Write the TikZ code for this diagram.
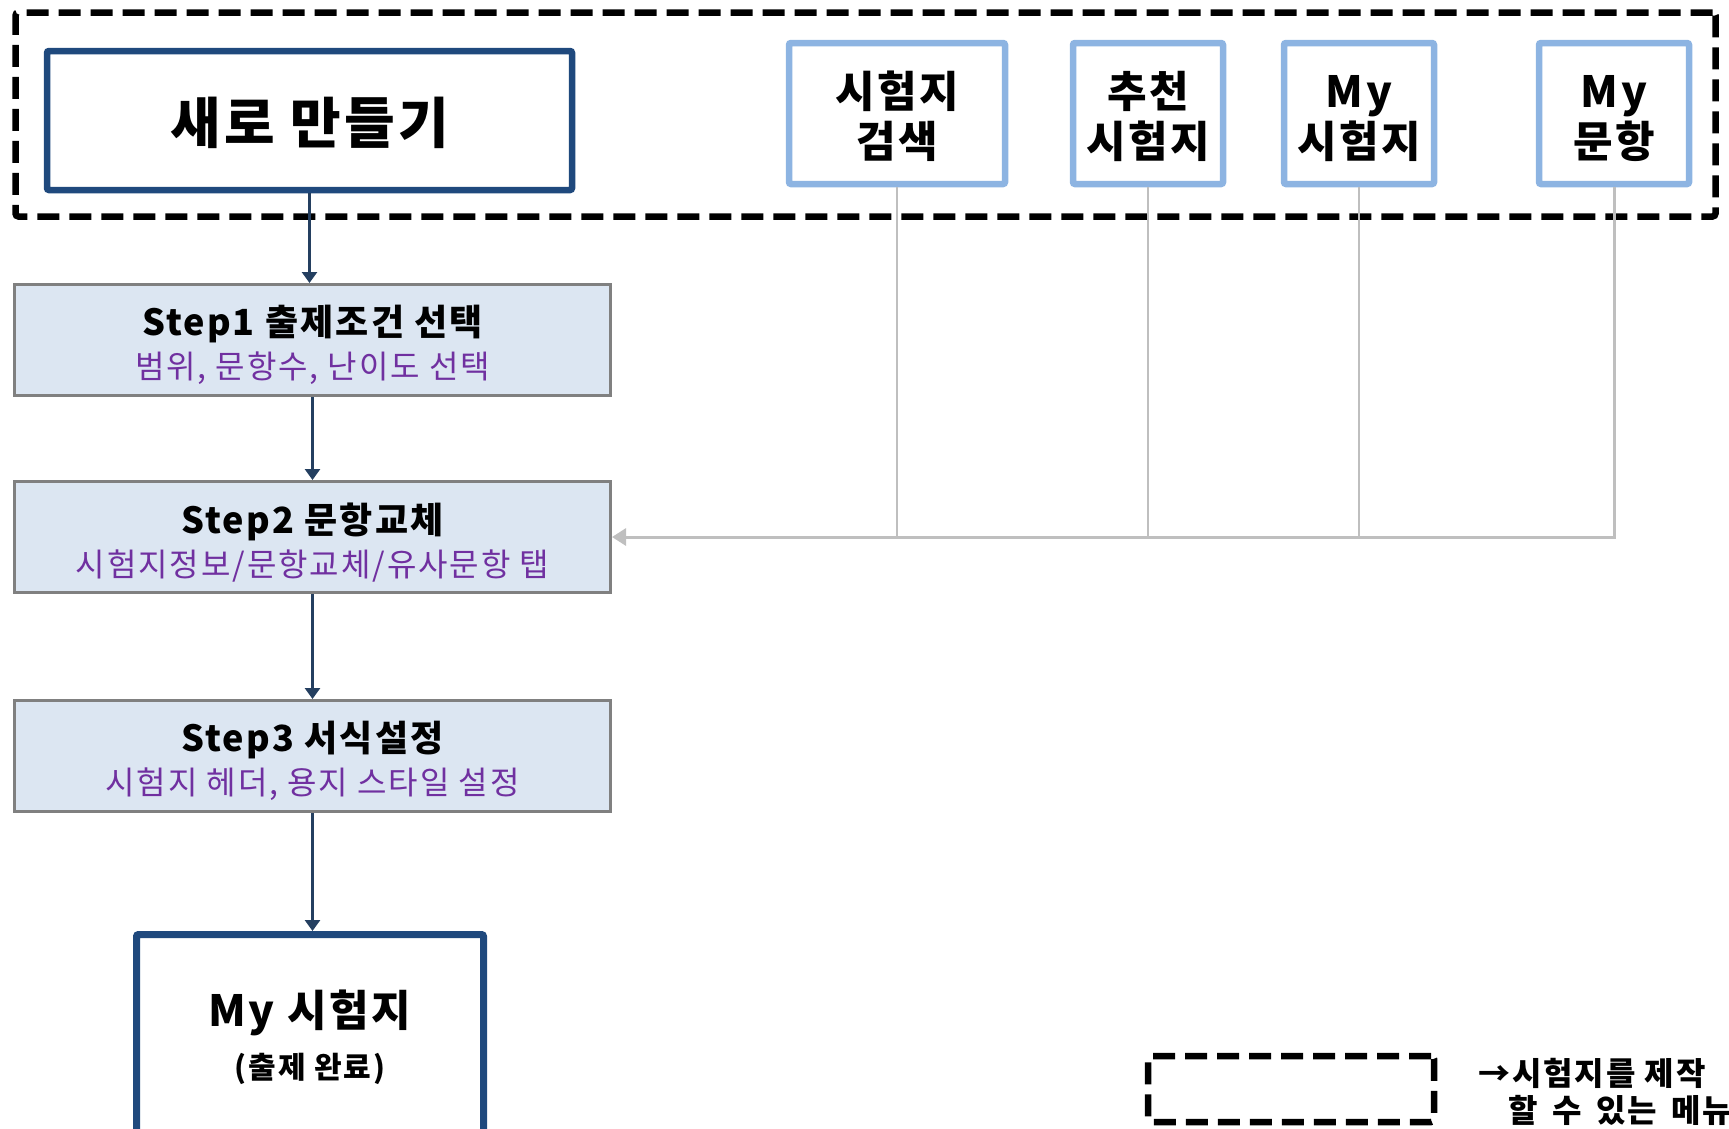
\documentclass[tikz,border=0pt]{standalone}
\usepackage{fontspec}
\setmainfont{Noto Sans CJK KR}[LetterSpace=6]
\usetikzlibrary{arrows.meta}
\definecolor{navy}{HTML}{1F497D}
\definecolor{navyarrow}{HTML}{243F60}
\definecolor{lightblue}{HTML}{8DB4E2}
\definecolor{stepfill}{HTML}{DCE6F2}
\definecolor{stepgray}{HTML}{808080}
\definecolor{subpurple}{HTML}{7030A0}
\definecolor{linkgray}{HTML}{BFBFBF}
\begin{document}
\begin{tikzpicture}[x=1pt,y=-1pt,
  newbox/.style={draw=navy, line width=6.5pt, rounded corners=2pt, fill=white, inner sep=0pt, align=center},
  menubox/.style={draw=lightblue, line width=6.5pt, rounded corners=2pt, fill=white, minimum height=141pt, inner sep=0pt, align=center, font=\fontsize{43}{50}\selectfont\bfseries},
  stepbox/.style={draw=stepgray, line width=3pt, fill=stepfill, minimum width=596pt, minimum height=111pt, inner sep=0pt, align=center, font=\fontsize{32}{43}\selectfont},
  darrow/.style={draw=navyarrow, line width=3pt, -{Triangle[length=11pt,width=15pt]}},
  glink/.style={draw=linkgray, line width=2pt},
  garrow/.style={draw=linkgray, line width=3pt, -{Triangle[length=14pt,width=17pt]}},
  dashbox/.style={draw=black, line width=6.5pt, dash pattern=on 22pt off 10pt, rounded corners=3pt}
]
\useasboundingbox (0,0) rectangle (1729,1128);
\clip (0,0) rectangle (1729,1128);

% outer dashed frame
\node[dashbox, minimum width=1700pt, minimum height=204pt, inner sep=0pt] (frame) at (865.5,114.5) {};

% main boxes
\node[newbox, minimum width=525pt, minimum height=139pt, font=\fontsize{55}{60}\selectfont\bfseries] (new) at (309.5,120.5) {\rule{0pt}{52pt}새로 만들기};

\node[menubox, minimum width=216pt] (b1) at (897,113.5) {\rule{0pt}{43pt}시험지\\검색};
\node[menubox, minimum width=150pt] (b2) at (1148,113.5) {\rule{0pt}{43pt}추천\\시험지};
\node[menubox, minimum width=150pt] (b3) at (1359,113.5) {\rule{0pt}{43pt}My\\시험지};
\node[menubox, minimum width=150pt] (b4) at (1614,113.5) {\rule{0pt}{43pt}My\\문항};

\node[stepbox] (s1) at (312.5,340) {{\fontsize{36}{43}\selectfont\bfseries\rule{0pt}{41pt}Step1 출제조건 선택}\\{\color{subpurple}범위, 문항수, 난이도 선택}};
\node[stepbox] (s2) at (312.5,537) {{\fontsize{36}{43}\selectfont\bfseries\rule{0pt}{41pt}Step2 문항교체}\\{\color{subpurple}시험지정보/문항교체/유사문항 탭}};
\node[stepbox] (s3) at (312.5,756) {{\fontsize{36}{43}\selectfont\bfseries\rule{0pt}{41pt}Step3 서식설정}\\{\color{subpurple}시험지 헤더, 용지 스타일 설정}};

\node[newbox, line width=7pt, minimum width=347pt, minimum height=240pt] (my) at (310,1054.5) {};
\node[align=center, inner sep=0pt, font=\fontsize{30}{52}\selectfont\bfseries] (mytext) at (310,1037) {{\fontsize{43}{52}\selectfont My 시험지}\\(출제 완료)};

% legend
\node[dashbox, minimum width=286pt, minimum height=66pt, inner sep=0pt] (legend) at (1291,1089) {};
\node[anchor=west, align=left, inner sep=0pt, font=\fontsize{32}{37}\selectfont\bfseries] (legendtext) at (1478,1092) {→시험지를 제작\\\hspace{0.95em}할\hspace{0.45em}수\hspace{0.45em}있는\hspace{0.45em}메뉴};

% flow arrows
\draw[darrow] (new.south) -- (new.south |- s1.north);
\draw[darrow] (s1.south) -- (s2.north);
\draw[darrow] (s2.south) -- (s3.north);
\draw[darrow] (s3.south) -- (s3.south |- my.north);

% gray links
\draw[glink] (b1.south) -- (b1.south |- s2.east);
\draw[glink] (b2.south) -- (b2.south |- s2.east);
\draw[glink] (b3.south) -- (b3.south |- s2.east);
\draw[garrow] (b4.south) |- (s2.east);
\end{tikzpicture}
\end{document}
